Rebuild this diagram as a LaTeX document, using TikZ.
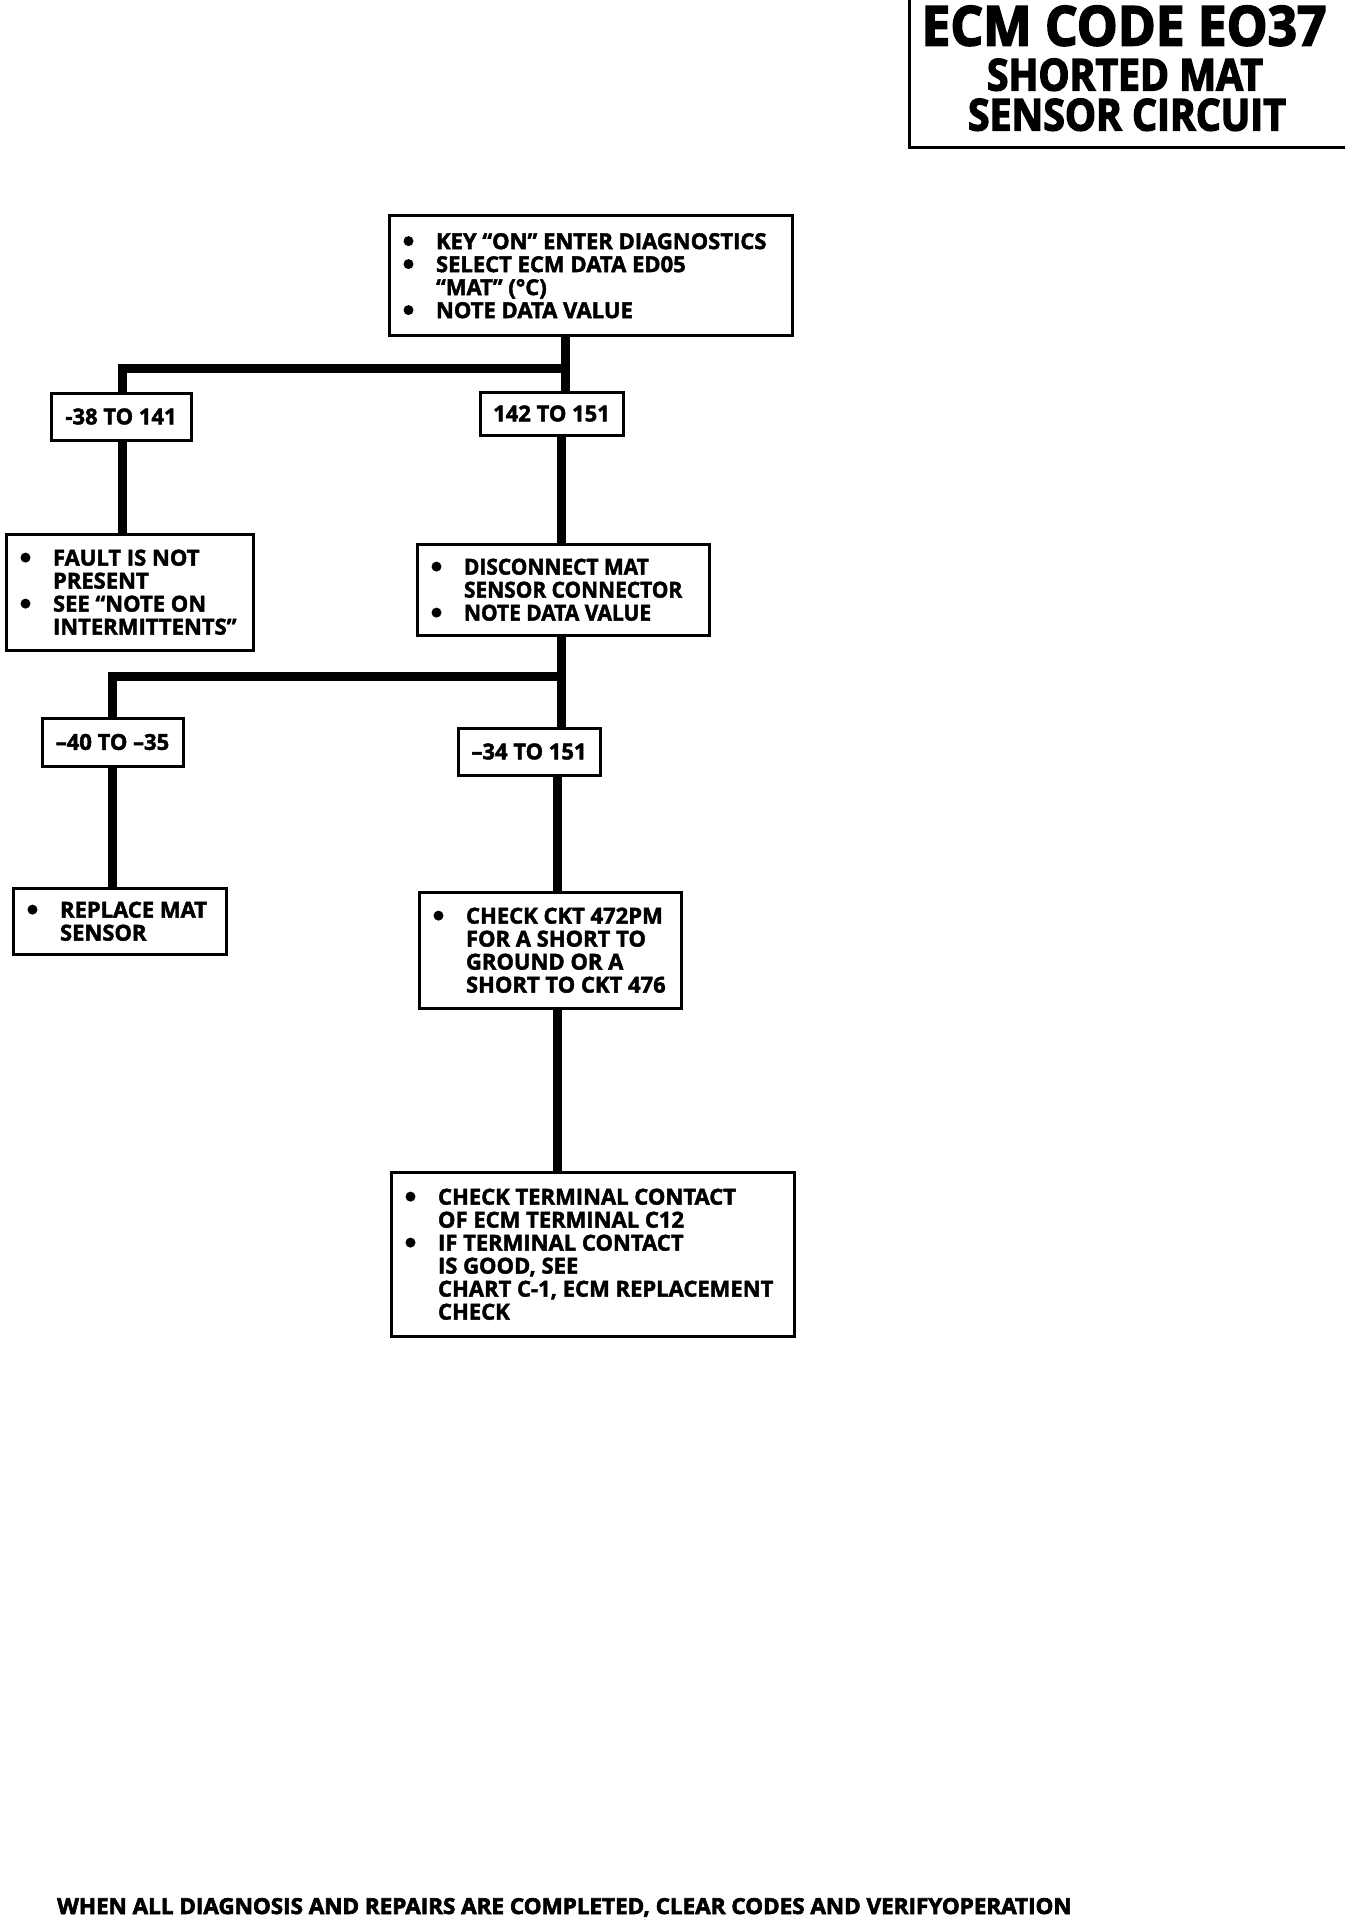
\documentclass[tikz,border=0pt]{standalone}
\usepackage{fontspec}
\setmainfont{Open Sans}
\newfontfamily\bxf{Open Sans}[FakeBold=2]
\newfontfamily\bxn{Open Sans}[FakeBold=2, FakeStretch=0.95]
\newfontfamily\ftf{Open Sans}[FakeStretch=1.02, FakeBold=3]
\newfontfamily\tta{Open Sans}[FakeStretch=0.935, FakeBold=3]
\newfontfamily\ttb{Open Sans}[FakeStretch=0.89, FakeBold=3]
\newcommand\bl{\makebox[33pt][l]{\hspace{0.5pt}\tikz[baseline=0pt]\fill (5pt,8pt) circle[radius=5pt];}}
\newcommand\ind{\hspace*{33pt}}
\newcommand\btext[2]{\raisebox{-3.5pt}[\height][\depth]{\makebox[#1][l]{\begin{tabular}{@{}l@{}}#2\end{tabular}}}}
\tikzset{
  tbox/.style={draw, line width=3pt, inner xsep=14pt, inner ysep=0pt,
    font=\bxf\bfseries\fontsize{22}{23}\selectfont},
  lbox/.style={draw, line width=3pt, inner sep=0pt, align=center,
    font=\bxf\bfseries\fontsize{22}{23}\selectfont},
  wire/.style={line width=9pt},
  ttl/.style={inner sep=0pt, text depth=0pt},
}
\begin{document}
\begin{tikzpicture}[x=1pt,y=-1pt]
\useasboundingbox (0,0) rectangle (1344,1926);
% title
\draw[line width=3pt] (909,-5) -- (909,148) -- (1350,148);
\node[ttl, text height=39pt, font=\tta\bfseries\fontsize{55}{60}\selectfont] (t1) at (1124,26) {ECM CODE EO37};
\node[ttl, text height=31pt, font=\ttb\bfseries\fontsize{44}{48}\selectfont] (t2) at (1125,75) {SHORTED MAT};
\node[ttl, text height=31pt, font=\ttb\bfseries\fontsize{44}{48}\selectfont] (t3) at (1127,115) {SENSOR CIRCUIT};
% boxes
\node[tbox, minimum width=403pt, minimum height=119pt] (b1) at (590.5,275.5)
  {\btext{375pt}{\bl KEY “ON” ENTER DIAGNOSTICS\\ \bl SELECT ECM DATA ED05\\ \ind “MAT” (°C)\\ \bl NOTE DATA VALUE}};
\node[lbox, minimum width=140pt, minimum height=47pt] (r1) at (121,416.5) {-38 TO 141};
\node[lbox, minimum width=143pt, minimum height=43pt] (r2) at (551.5,413.5) {142 TO 151};
\node[tbox, minimum width=247pt, minimum height=116pt] (f1) at (129.5,592)
  {\btext{219pt}{\bl FAULT IS NOT\\ \ind PRESENT\\ \bl SEE “NOTE ON\\ \ind INTERMITTENTS”}};
\node[tbox, minimum width=292pt, minimum height=91pt, font=\bxn\bfseries\fontsize{22}{23}\selectfont] (d1) at (563,589.5)
  {\btext{264pt}{\bl DISCONNECT MAT\\ \ind SENSOR CONNECTOR\\ \bl NOTE DATA VALUE}};
\node[lbox, minimum width=141pt, minimum height=48pt] (r3) at (112.5,742) {–40 TO –35};
\node[lbox, minimum width=142pt, minimum height=47pt] (r4) at (529,751.5) {–34 TO 151};
\node[tbox, minimum width=213pt, minimum height=66pt] (rp) at (119.5,921)
  {\btext{185pt}{\bl REPLACE MAT\\ \ind SENSOR}};
\node[tbox, minimum width=262pt, minimum height=116pt] (ck) at (550,950)
  {\btext{234pt}{\bl CHECK CKT 472PM\\ \ind FOR A SHORT TO\\ \ind GROUND OR A\\ \ind SHORT TO CKT 476}};
\node[tbox, minimum width=403pt, minimum height=164pt] (ct) at (592.5,1254)
  {\btext{375pt}{\bl CHECK TERMINAL CONTACT\\ \ind OF ECM TERMINAL C12\\ \bl IF TERMINAL CONTACT\\ \ind IS GOOD, SEE\\ \ind CHART C-1, ECM REPLACEMENT\\ \ind CHECK}};
% connectors
\coordinate (j1) at (565,368);
\coordinate (k1) at (122,368);
\coordinate (j2) at (561,676);
\coordinate (k2) at (112,676);
\coordinate (j3) at (557,1090);
\draw[wire] (j1 |- b1.south) -- (j1 |- r2.north);
\draw[wire] (k1 |- r1.north) -- (k1) -- (j1);
\draw[wire] (k1 |- r1.south) -- (k1 |- f1.north);
\draw[wire] (j2 |- r2.south) -- (j2 |- d1.north);
\draw[wire] (j2 |- d1.south) -- (j2 |- r4.north);
\draw[wire] (k2 |- r3.north) -- (k2) -- (j2);
\draw[wire] (k2 |- r3.south) -- (k2 |- rp.north);
\draw[wire] (j3 |- r4.south) -- (j3 |- ck.north);
\draw[wire] (j3 |- ck.south) -- (j3 |- ct.north);
% footer
\node[inner sep=0pt, anchor=west, text depth=0pt, font=\ftf\bfseries\fontsize{22}{24}\selectfont] (ft) at (57,1906)
  {WHEN ALL DIAGNOSIS AND REPAIRS ARE COMPLETED, CLEAR CODES AND VERIFYOPERATION};
\end{tikzpicture}
\end{document}
